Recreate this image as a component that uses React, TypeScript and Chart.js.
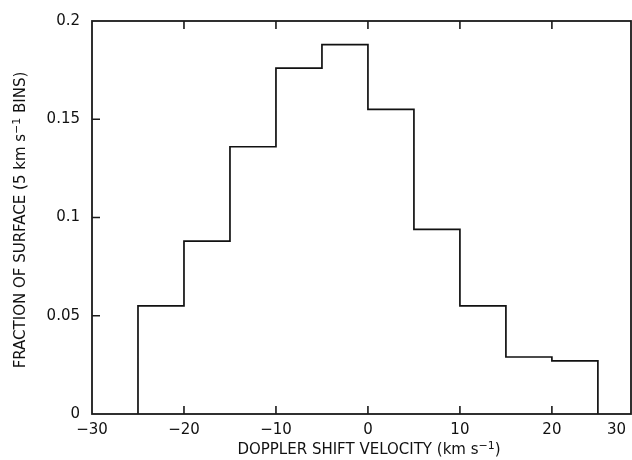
import React, { useEffect, useRef } from "react";
import { Chart, registerables } from "chart.js";

Chart.register(...registerables);

// ---- data ----
const binEdges = [-25, -20, -15, -10, -5, 0, 5, 10, 15, 20, 25];
const binFractions = [0.055, 0.088, 0.136, 0.176, 0.188, 0.155, 0.094, 0.055, 0.029, 0.027];
const xTickValues = [-30, -20, -10, 0, 10, 20, 30];
const xTickLabels = ["−30", "−20", "−10", "0", "10", "20", "30"];
const yTickValues = [0, 0.05, 0.1, 0.15, 0.2];
const yTickLabels = ["0", "0.05", "0.1", "0.15", "0.2"];
const xTitleParts = [
  { t: "DOPPLER SHIFT VELOCITY (km s", sup: false },
  { t: "−1", sup: true },
  { t: ")", sup: false },
];
const yTitleParts = [
  { t: "FRACTION OF SURFACE (5 km s", sup: false },
  { t: "−1", sup: true },
  { t: " BINS)", sup: false },
];

const X_MIN = -30;
const X_MAX = 28.6;
const Y_MIN = 0;
const Y_MAX = 0.2;

const FONT_FAMILY = '"DejaVu Sans", sans-serif';
const INK = "#111";
const X_LABEL_PAD = 7;

function drawParts(ctx: CanvasRenderingContext2D, parts: { t: string; sup: boolean }[], cx: number, baseline: number) {
  const big = `15px ${FONT_FAMILY}`;
  const small = `11px ${FONT_FAMILY}`;
  const widths = parts.map((p) => {
    ctx.font = p.sup ? small : big;
    return ctx.measureText(p.t).width;
  });
  const total = widths.reduce((a, b) => a + b, 0);
  let x = cx - total / 2;
  ctx.textAlign = "left";
  ctx.textBaseline = "alphabetic";
  parts.forEach((p, i) => {
    ctx.font = p.sup ? small : big;
    ctx.fillText(p.t, x, baseline + (p.sup ? -5 : 0));
    x += widths[i];
  });
}

const framePlugin = {
  id: "frameAndTitles",
  beforeDraw(chart: any) {
    const ctx = chart.ctx;
    ctx.save();
    ctx.fillStyle = "#fff";
    ctx.fillRect(0, 0, chart.width, chart.height);
    ctx.restore();
  },
  afterDraw(chart: any) {
    const ctx: CanvasRenderingContext2D = chart.ctx;
    const { left, right, top, bottom } = chart.chartArea;
    const xs = chart.scales.x;
    const ys = chart.scales.y;
    ctx.save();
    // frame
    ctx.strokeStyle = "#1a1a1a";
    ctx.lineWidth = 1.8;
    ctx.strokeRect(left, top, right - left, bottom - top);
    // inward ticks
    const tl = 8;
    ctx.lineWidth = 1.6;
    ctx.beginPath();
    xTickValues.forEach((v) => {
      if (v <= X_MIN || v >= X_MAX) return;
      const px = xs.getPixelForValue(v);
      ctx.moveTo(px, top);
      ctx.lineTo(px, top + tl);
      ctx.moveTo(px, bottom);
      ctx.lineTo(px, bottom - tl);
    });
    yTickValues.forEach((v) => {
      if (v <= Y_MIN || v >= Y_MAX) return;
      const py = ys.getPixelForValue(v);
      ctx.moveTo(left, py);
      ctx.lineTo(left + tl, py);
    });
    ctx.stroke();
    // out-of-range x tick labels, clamped inside the canvas
    ctx.fillStyle = INK;
    ctx.font = `15px ${FONT_FAMILY}`;
    ctx.textAlign = "center";
    ctx.textBaseline = "middle";
    xTickValues.forEach((v, i) => {
      if (v >= X_MIN && v <= X_MAX) return;
      const w = ctx.measureText(xTickLabels[i]).width;
      const px = Math.min(xs.getPixelForValue(v), chart.width - w / 2 - 6);
      ctx.fillText(xTickLabels[i], px, xs.top + X_LABEL_PAD + 9);
    });
    // axis titles
    drawParts(ctx, xTitleParts, 369, 454);
    ctx.translate(0, 220);
    ctx.rotate(-Math.PI / 2);
    drawParts(ctx, yTitleParts, 0, 25);
    ctx.restore();
  },
};

export default function App() {
  const canvasRef = useRef<HTMLCanvasElement | null>(null);

  useEffect(() => {
    const canvas = canvasRef.current;
    if (!canvas) return;
    const points: { x: number; y: number }[] = [];
    points.push({ x: binEdges[0], y: 0 });
    binFractions.forEach((v, i) => {
      points.push({ x: binEdges[i], y: v });
      points.push({ x: binEdges[i + 1], y: v });
    });
    points.push({ x: binEdges[binEdges.length - 1], y: 0 });

    const chart = new Chart(canvas, {
      type: "line",
      data: {
        datasets: [
          {
            data: points,
            borderColor: INK,
            borderWidth: 1.7,
            pointRadius: 0,
            fill: false,
            tension: 0,
          },
        ],
      },
      options: {
        responsive: false,
        animation: false,
        devicePixelRatio: 1,
        layout: { padding: { top: 20, right: 1, left: 0, bottom: 0 } },
        plugins: { legend: { display: false }, tooltip: { enabled: false } },
        scales: {
          x: {
            type: "linear",
            min: X_MIN,
            max: X_MAX,
            grid: { display: false, drawTicks: false },
            border: { display: false },
            afterBuildTicks: (s: any) => {
              s.ticks = xTickValues.filter((v) => v >= X_MIN && v <= X_MAX).map((v) => ({ value: v }));
            },
            afterFit: (s: any) => {
              s.height = 46;
            },
            ticks: {
              autoSkip: false,
              maxRotation: 0,
              padding: X_LABEL_PAD,
              color: INK,
              font: { family: FONT_FAMILY, size: 15 },
              callback: (v: any) => {
                const i = xTickValues.indexOf(Number(v));
                return i >= 0 ? xTickLabels[i] : "";
              },
            },
          },
          y: {
            type: "linear",
            min: Y_MIN,
            max: Y_MAX,
            grid: { display: false, drawTicks: false },
            border: { display: false },
            afterBuildTicks: (s: any) => {
              s.ticks = yTickValues.map((v) => ({ value: v }));
            },
            afterFit: (s: any) => {
              s.width = 92;
            },
            ticks: {
              autoSkip: false,
              padding: 12,
              color: INK,
              font: { family: FONT_FAMILY, size: 15 },
              callback: (v: any) => {
                const i = yTickValues.findIndex((t) => Math.abs(t - Number(v)) < 1e-9);
                return i >= 0 ? yTickLabels[i] : "";
              },
            },
          },
        },
      },
      plugins: [framePlugin],
    });
    return () => chart.destroy();
  }, []);

  return (
    <div style={{ position: "fixed", left: 0, top: 0, width: 632, height: 460, background: "#fff" }}>
      <canvas ref={canvasRef} width={632} height={460} style={{ display: "block" }} />
    </div>
  );
}
